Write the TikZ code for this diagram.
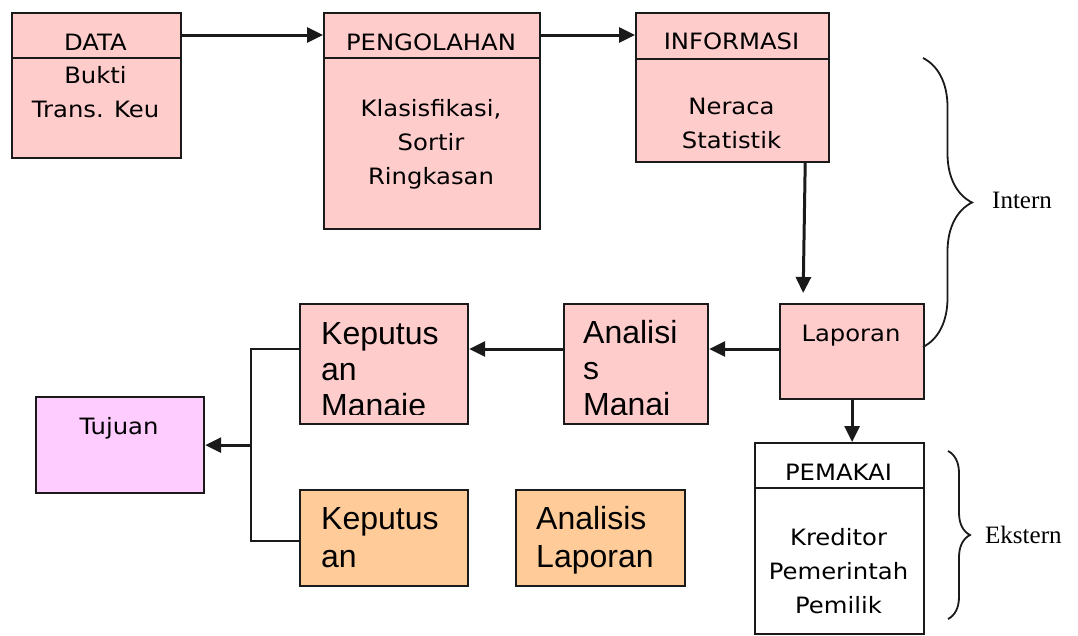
\documentclass[tikz,border=0pt]{standalone}
\usepackage{fontspec}
\usetikzlibrary{arrows.meta,decorations.pathreplacing}
\newfontfamily\handfont[FakeStretch=1.08]{DejaVu Sans}
\newfontfamily\arialfont{Liberation Sans}
\newfontfamily\romanfont{Liberation Serif}
\definecolor{boxpink}{HTML}{FFCCCC}
\definecolor{boxviolet}{HTML}{FFCCFF}
\definecolor{boxorange}{HTML}{FFCC99}
\definecolor{ink}{HTML}{1A1A1A}
\begin{document}
\begin{tikzpicture}[x=1pt,y=-1pt,
  box/.style={draw=ink, line width=2.2pt, rectangle, inner sep=0pt, anchor=north west},
  pinkbox/.style={box, fill=boxpink},
  violetbox/.style={box, fill=boxviolet},
  orangebox/.style={box, fill=boxorange},
  whitebox/.style={box, fill=white},
  divider/.style={draw=ink, line width=2.2pt},
  % multi-line texts are placed by the baseline of their last line
  hand/.style={font=\handfont\fontsize{22.5}{34}\selectfont, inner sep=0pt, align=center, anchor=base},
  plain/.style={font=\arialfont\fontsize{32}{36}\selectfont, inner sep=0pt, align=left, anchor=base west},
  plainwide/.style={plain, font=\arialfont\fontsize{32}{38}\selectfont},
  side/.style={font=\romanfont\fontsize{25}{30}\selectfont, inner sep=0pt, anchor=base west},
  flow/.style={draw=ink, line width=3pt, -{Triangle[length=16pt,width=15pt]}},
  tree/.style={draw=ink, line width=1.8pt},
  curly/.style={draw=ink, line width=1.8pt, decorate, decoration={brace, amplitude=#1}}
]
\useasboundingbox (0,0) rectangle (1078,635);

% upper row: data, processing, information
\node[pinkbox, minimum width=169pt, minimum height=145pt] (data) at (11,12) {};
\node[pinkbox, minimum width=216pt, minimum height=216pt] (proc) at (323,12) {};
\node[pinkbox, minimum width=193pt, minimum height=149pt] (info) at (635,12) {};
\draw[divider] ([yshift=-46pt]data.north west) -- ([yshift=-46pt]data.north east);
\draw[divider] ([yshift=-46pt]proc.north west) -- ([yshift=-46pt]proc.north east);
\draw[divider] ([yshift=-47pt]info.north west) -- ([yshift=-47pt]info.north east);

\node[hand] (data-h) at (95.5,50) {DATA};
\node[hand] (data-b) at (95.5,117) {Bukti\\Trans. Keu};
\node[hand] (proc-h) at (431,50) {PENGOLAHAN};
\node[hand] (proc-b) at (431,184) {Klasisfikasi,\\Sortir\\Ringkasan};
\node[hand] (info-h) at (731.5,49) {INFORMASI};
\node[hand] (info-b) at (731.5,148) {Neraca\\Statistik};

% middle row
\node[pinkbox, minimum width=144pt, minimum height=95pt] (lap) at (779,303) {};
\node[pinkbox, minimum width=144pt, minimum height=120pt] (an) at (563,303) {};
\node[pinkbox, minimum width=168pt, minimum height=120pt] (kep) at (299,303) {};
\node[hand] (lap-t) at (851,341) {Laporan};

\begin{scope}
  \clip (kep.north west) rectangle ([yshift=11pt]kep.south east);
  \node[plain] (kep-t) at (321,416) {Keputus\\an\\Manaje};
\end{scope}
\begin{scope}
  \clip (an.north west) rectangle ([yshift=11pt]an.south east);
  \node[plain] (an-t) at (583,415) {Analisi\\s\\Manaj};
\end{scope}

% lower row
\node[violetbox, minimum width=168pt, minimum height=96pt] (tuj) at (35,396) {};
\node[orangebox, minimum width=168pt, minimum height=96pt] (kep2) at (299,489) {};
\node[orangebox, minimum width=169pt, minimum height=96pt] (anl) at (515,489) {};
\node[hand] (tuj-t) at (119,434) {Tujuan};
\node[plainwide] (kep2-t) at (321,567) {Keputus\\an};
\node[plainwide] (anl-t) at (536,567) {Analisis\\Laporan};

% users
\node[whitebox, minimum width=169pt, minimum height=191pt] (pem) at (754,442) {};
\draw[divider] ([yshift=-46pt]pem.north west) -- ([yshift=-46pt]pem.north east);
\node[hand] (pem-h) at (838.5,480) {PEMAKAI};
\node[hand] (pem-b) at (838.5,613) {Kreditor\\Pemerintah\\Pemilik};

% connectors
\coordinate (row) at (0,349);
\coordinate (link) at (0,541);
\coordinate (bus) at (251,0);
\draw[flow] ([yshift=-23pt]data.north east) -- ([yshift=-23pt]proc.north west);
\draw[flow] ([yshift=-23pt]proc.north east) -- ([yshift=-23pt]info.north west);
\draw[flow, shorten >=10pt] ([xshift=-25pt]info.south east) -- ([xshift=24pt]lap.north west);
\draw[flow] (lap.south) -- (lap.south |- pem.north);
\draw[flow] (lap.west |- row) -- (an.east |- row);
\draw[flow] (an.west |- row) -- (kep.east |- row);
\draw[tree] (kep.west |- row) -| (bus |- link) -- (kep2.west |- link);
\draw[flow] (bus |- tuj.east) -- (tuj.east);

% braces with their labels
\coordinate (ibt) at (923,58);
\coordinate (ibb) at (923,347);
\coordinate (ebt) at (948,451);
\coordinate (ebb) at (948,619);
\draw[curly=49pt] (ibt) -- (ibb);
\draw[curly=22pt] (ebt) -- (ebb);
\node[side] (intern) at (992,208) {Intern};
\node[side] (ekstern) at (985,543) {Ekstern};
\end{tikzpicture}
\end{document}
